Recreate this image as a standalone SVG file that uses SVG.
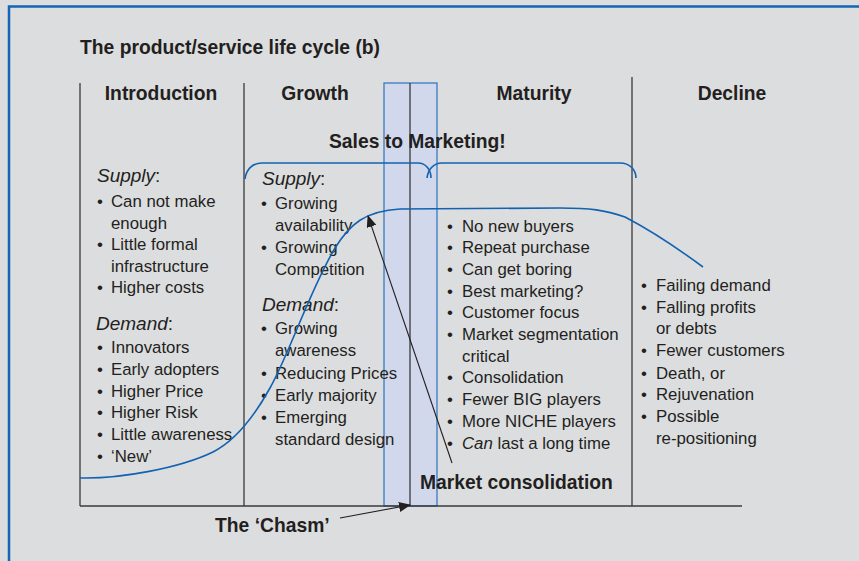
<svg xmlns="http://www.w3.org/2000/svg" width="859" height="561" viewBox="0 0 859 561">
<style>
.bg{fill:#dcdddf}
.frame{stroke:#1565b4;stroke-width:2.5;fill:none}
.axis{stroke:#3a3a3a;stroke-width:1.3;fill:none}
.blue{stroke:#1262b0;stroke-width:1.6;fill:none}
.band{fill:#d2d8ec;stroke:#2a72bf;stroke-width:1.2}
.h{font-family:"Liberation Sans",Arial,sans-serif;font-weight:bold;font-size:19.3px;fill:#231f20}
.t{font-family:"Liberation Sans",Arial,sans-serif;font-size:16.8px;fill:#231f20}
.s{font-family:"Liberation Sans",Arial,sans-serif;font-size:19px;fill:#231f20}
.i{font-style:italic}
.arr{stroke:#231f20;stroke-width:1.1;fill:none}
</style>
<defs>
<marker id="ah" viewBox="0 0 12 10" refX="11" refY="5" markerWidth="12" markerHeight="10" markerUnits="userSpaceOnUse" orient="auto">
<path d="M0,0 L12,5 L0,10 Z" fill="#231f20"/>
</marker>
</defs>
<rect class="bg" x="0" y="0" width="859" height="561"/>
<path class="frame" d="M9,561 L9,6.5 L859,6.5"/>

<g id="title"><text class="h" x="80" y="54">The product/service life cycle (b)</text></g>

<g id="chasm-band">
<rect class="band" x="384" y="83" width="53" height="423"/>
<line class="axis" x1="410" y1="83" x2="410" y2="506"/>
</g>

<g id="axes">
<line class="axis" x1="80" y1="83" x2="80" y2="506"/>
<line class="axis" x1="244" y1="83" x2="244" y2="506"/>
<line class="axis" x1="632" y1="77" x2="632" y2="506"/>
<line class="axis" x1="80" y1="506" x2="742" y2="506"/>
</g>

<g id="headers">
<text class="h" x="161" y="100" text-anchor="middle">Introduction</text>
<text class="h" x="315" y="100" text-anchor="middle">Growth</text>
<text class="h" x="534" y="100" text-anchor="middle">Maturity</text>
<text class="h" x="732" y="100" text-anchor="middle">Decline</text>
</g>

<g id="sales-to-marketing"><text class="h" x="329" y="148">Sales to Marketing!</text></g>

<g id="introduction">
<text class="s" x="97" y="182"><tspan class="i">Supply</tspan>:</text>
<text class="t">
<tspan x="97" y="207">•</tspan><tspan x="111" y="207">Can not make</tspan>
<tspan x="111" y="229">enough</tspan>
<tspan x="97" y="250">•</tspan><tspan x="111" y="250">Little formal</tspan>
<tspan x="111" y="272">infrastructure</tspan>
<tspan x="97" y="293">•</tspan><tspan x="111" y="293">Higher costs</tspan>
</text>
<text class="s" x="96" y="330"><tspan class="i">Demand</tspan>:</text>
<text class="t">
<tspan x="97" y="353">•</tspan><tspan x="111" y="353">Innovators</tspan>
<tspan x="97" y="375">•</tspan><tspan x="111" y="375">Early adopters</tspan>
<tspan x="97" y="397">•</tspan><tspan x="111" y="397">Higher Price</tspan>
<tspan x="97" y="418">•</tspan><tspan x="111" y="418">Higher Risk</tspan>
<tspan x="97" y="440">•</tspan><tspan x="111" y="440">Little awareness</tspan>
<tspan x="97" y="462">•</tspan><tspan x="111" y="462">‘New’</tspan>
</text>
</g>

<g id="growth">
<text class="s" x="262" y="185"><tspan class="i">Supply</tspan>:</text>
<text class="t">
<tspan x="261" y="209">•</tspan><tspan x="275" y="209">Growing</tspan>
<tspan x="275" y="231">availability</tspan>
<tspan x="261" y="253">•</tspan><tspan x="275" y="253">Growing</tspan>
<tspan x="275" y="275">Competition</tspan>
</text>
<text class="s" x="262" y="311"><tspan class="i">Demand</tspan>:</text>
<text class="t">
<tspan x="261" y="334">•</tspan><tspan x="275" y="334">Growing</tspan>
<tspan x="275" y="356">awareness</tspan>
<tspan x="261" y="379">•</tspan><tspan x="275" y="379">Reducing Prices</tspan>
<tspan x="261" y="401">•</tspan><tspan x="275" y="401">Early majority</tspan>
<tspan x="261" y="423">•</tspan><tspan x="275" y="423">Emerging</tspan>
<tspan x="275" y="445">standard design</tspan>
</text>
</g>

<g id="maturity">
<text class="t">
<tspan x="447" y="232">•</tspan><tspan x="462" y="232">No new buyers</tspan>
<tspan x="447" y="253">•</tspan><tspan x="462" y="253">Repeat purchase</tspan>
<tspan x="447" y="275">•</tspan><tspan x="462" y="275">Can get boring</tspan>
<tspan x="447" y="297">•</tspan><tspan x="462" y="297">Best marketing?</tspan>
<tspan x="447" y="318">•</tspan><tspan x="462" y="318">Customer focus</tspan>
<tspan x="447" y="340">•</tspan><tspan x="462" y="340">Market segmentation</tspan>
<tspan x="462" y="362">critical</tspan>
<tspan x="447" y="383">•</tspan><tspan x="462" y="383">Consolidation</tspan>
<tspan x="447" y="405">•</tspan><tspan x="462" y="405">Fewer BIG players</tspan>
<tspan x="447" y="427">•</tspan><tspan x="462" y="427">More NICHE players</tspan>
<tspan x="447" y="449">•</tspan><tspan x="462" y="449" class="i">Can</tspan><tspan> last a long time</tspan>
</text>
</g>

<g id="decline">
<text class="t">
<tspan x="641" y="291">•</tspan><tspan x="656" y="291">Failing demand</tspan>
<tspan x="641" y="313">•</tspan><tspan x="656" y="313">Falling profits</tspan>
<tspan x="656" y="334">or debts</tspan>
<tspan x="641" y="356">•</tspan><tspan x="656" y="356">Fewer customers</tspan>
<tspan x="641" y="379">•</tspan><tspan x="656" y="379">Death, or</tspan>
<tspan x="641" y="400">•</tspan><tspan x="656" y="400">Rejuvenation</tspan>
<tspan x="641" y="422">•</tspan><tspan x="656" y="422">Possible</tspan>
<tspan x="656" y="444">re-positioning</tspan>
</text>
</g>

<g id="market-consolidation"><text class="h" x="420" y="489">Market consolidation</text></g>
<g id="the-chasm"><text class="h" x="215" y="532">The ‘Chasm’</text></g>

<g id="connectors">
<path class="blue" d="M245,179 C246,170 252,163 262,163 L418,163 C426,163 431,170 431,178"/>
<path class="blue" d="M427,178 C428,170 433,163 442,163 L620,163 C630,163 636,170 636,178"/>
<path class="blue" d="M80,478 C120,479 180,468 213,452 C235,441 255,415 270,388 C290,352 310,290 335,248 C350,224 365,211 400,209 L560,208 C590,208 605,210 625,217 C650,230 680,250 703,267"/>
<line class="arr" x1="452" y1="463" x2="368" y2="216" marker-end="url(#ah)"/>
<line class="arr" x1="340" y1="518" x2="410" y2="505" marker-end="url(#ah)"/>
</g>
</svg>
